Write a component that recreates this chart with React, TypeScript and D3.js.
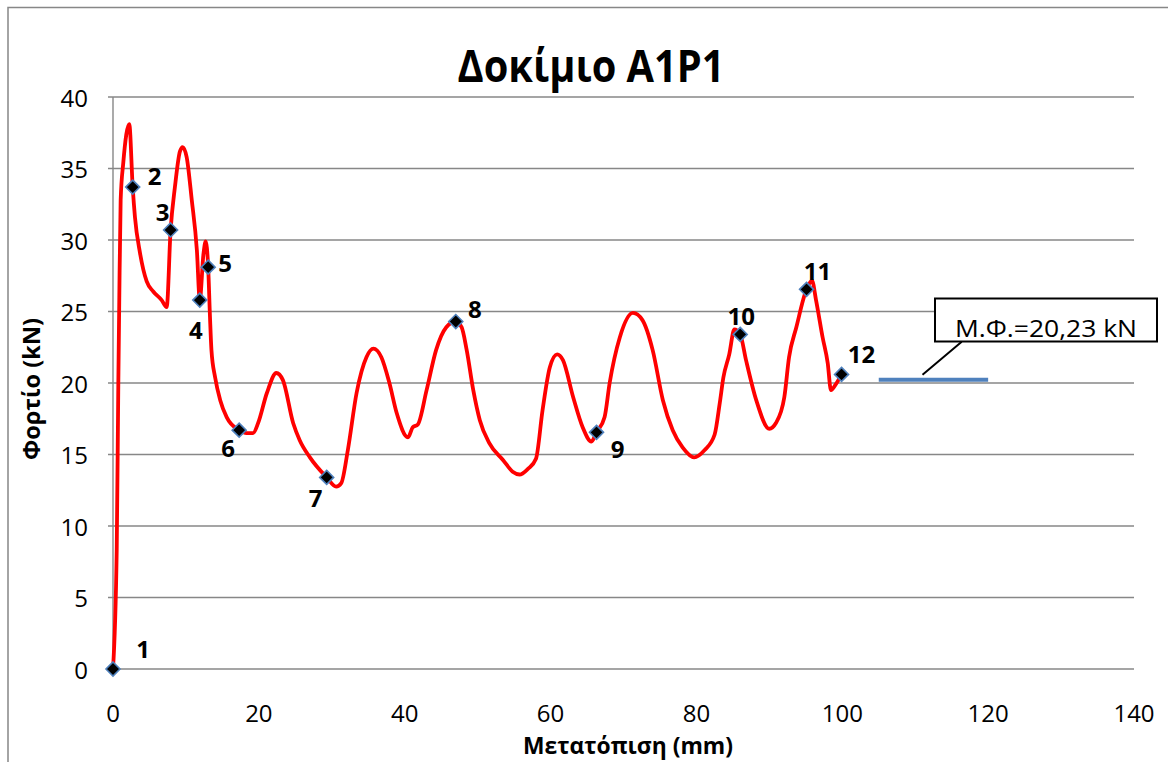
import React from "react";
import * as d3 from "d3";

// ---- data ----
const curveX = [0, 0.51, 0.73, 0.86, 1.05, 1.41, 2.23, 2.7, 3.01, 3.7, 4.62, 5.52, 6.67, 7.36, 7.9, 8.49, 9.18, 9.55, 10.1, 10.8, 11.5, 11.9, 12.4, 12.7, 13.05, 13.3, 13.5, 14.0, 14.7, 15.6, 17.3, 18.3, 19.2, 19.9, 21.1, 22.4, 23.3, 24.7, 25.6, 27.0, 29.3, 30.6, 31.3, 32.2, 33.4, 34.75, 35.7, 36.8, 37.9, 38.9, 40.45, 41.1, 41.8, 43.0, 44.3, 45.7, 47.0, 47.8, 48.5, 49.4, 50.3, 51.6, 53.5, 54.8, 55.75, 56.9, 58.0, 58.9, 59.9, 60.9, 61.7, 63.1, 64.4, 65.6, 66.3, 67.4, 68.1, 69.5, 71.3, 72.6, 74.0, 75.4, 76.75, 78.1, 79.7, 81.1, 82.5, 83.2, 83.7, 84.5, 85.2, 86.0, 86.8, 88.2, 90.0, 90.9, 92.05, 92.7, 93.7, 95.1, 95.85, 96.4, 97.3, 98.0, 98.45, 99.1, 99.9];
const curveY = [0, 8.32, 20.0, 25.8, 32.8, 35.4, 38.1, 33.7, 31.6, 29.1, 27.1, 26.4, 25.8, 25.3, 30.7, 33.7, 36.2, 36.5, 35.8, 32.8, 29.3, 25.8, 29.0, 29.9, 28.1, 24.6, 22.3, 20.4, 18.8, 17.6, 16.7, 16.5, 16.5, 17.2, 19.3, 20.7, 20.2, 17.2, 16.0, 14.8, 13.4, 12.75, 13.0, 15.3, 19.3, 21.8, 22.4, 21.8, 20.0, 17.9, 16.2, 16.9, 17.1, 19.5, 22.3, 23.9, 24.3, 23.9, 22.3, 19.5, 17.4, 15.8, 14.6, 13.8, 13.6, 14.0, 14.7, 18.1, 21.1, 22.0, 21.6, 19.0, 16.9, 15.9, 16.55, 17.6, 20.0, 23.2, 24.9, 24.4, 22.3, 18.8, 16.7, 15.5, 14.8, 15.3, 16.4, 18.6, 20.4, 22.0, 23.75, 23.4, 21.6, 18.8, 16.8, 17.2, 19.0, 21.8, 23.9, 26.55, 27.15, 25.8, 23.2, 21.4, 19.5, 19.9, 20.6];

const markerX = [0, 2.7, 7.9, 11.9, 13.05, 17.3, 29.3, 47.0, 66.3, 86.0, 95.1, 99.9];
const markerY = [0, 33.7, 30.7, 25.8, 28.1, 16.7, 13.4, 24.3, 16.55, 23.4, 26.55, 20.6];
const markerLabels = ["1", "2", "3", "4", "5", "6", "7", "8", "9", "10", "11", "12"];

const meanX = [105, 120];
const meanLoad = 20.23;

const xTicks = [0, 20, 40, 60, 80, 100, 120, 140];
const yTicks = [0, 5, 10, 15, 20, 25, 30, 35, 40];

const titleText = "Δοκίμιο A1P1";
const xTitle = "Μετατόπιση (mm)";
const yTitle = "Φορτίο (kN)";

// ---- layout (pixel offsets of labels relative to their markers) ----
const labelOffsets: [number, number][] = [
  [30, -11], [22, -2], [-8, -9], [-4, 39], [17, 5], [-11, 27], [-11, 30], [19, -4], [21, 26], [1, -9], [11, -9], [20, -11],
];

const FONT = "'Open Sans', 'Liberation Sans', sans-serif";
const GRID = "#878787";

export default function App() {
  const x = d3.scaleLinear().domain([0, 140]).range([113, 1134]);
  const y = d3.scaleLinear().domain([0, 40]).range([669, 97]);

  const pts = curveX.map((v, i) => [v, curveY[i]] as [number, number]);
  const line = d3
    .line<[number, number]>()
    .x((d) => x(d[0]))
    .y((d) => y(d[1]))
    .curve(d3.curveMonotoneX);

  const diamond = (cx: number, cy: number, r: number) =>
    `M${cx},${cy - r}L${cx + r},${cy}L${cx},${cy + r}L${cx - r},${cy}Z`;

  const meanText = `Μ.Φ.=${meanLoad.toFixed(2).replace(".", ",")} kN`;

  return (
    <svg
      width={1168}
      height={762}
      style={{ position: "absolute", left: 0, top: 0, background: "#fff" }}
      fontFamily={FONT}
    >
      <rect x={0} y={0} width={1168} height={762} fill="#fff" />
      {/* chart border */}
      <rect x={8} y={7.5} width={1200} height={800} fill="none" stroke={GRID} strokeWidth={1.5} />

      {/* title */}
      <text x={591} y={82} textAnchor="middle" fontSize={44} fontWeight="bold" textLength={267} lengthAdjust="spacingAndGlyphs">
        {titleText}
      </text>

      {/* gridlines + y ticks */}
      {yTicks.map((t) => (
        <g key={t}>
          <line x1={108} x2={x(140)} y1={y(t)} y2={y(t)} stroke={GRID} strokeWidth={1.4} />
          <text x={88} y={y(t)} textAnchor="end" dominantBaseline="central" fontSize={24} fill="#000">
            {t}
          </text>
        </g>
      ))}
      <line x1={x(0)} x2={x(0)} y1={y(40)} y2={y(0)} stroke={GRID} strokeWidth={1.4} />

      {/* x tick labels */}
      {xTicks.map((t) => (
        <text key={t} x={x(t)} y={712} textAnchor="middle" dominantBaseline="central" fontSize={24} fill="#000">
          {t}
        </text>
      ))}

      {/* axis titles */}
      <text x={628} y={754} textAnchor="middle" fontSize={24} fontWeight="bold" textLength={210} lengthAdjust="spacingAndGlyphs">
        {xTitle}
      </text>
      <text
        transform={`translate(40,389) rotate(-90)`}
        textAnchor="middle"
        fontSize={24}
        fontWeight="bold"
        textLength={142}
        lengthAdjust="spacingAndGlyphs"
      >
        {yTitle}
      </text>

      {/* curve */}
      <path d={line(pts) || ""} fill="none" stroke="#FF0000" strokeWidth={3.8} strokeLinejoin="round" />

      {/* markers */}
      {markerX.map((mx, i) => (
        <path key={i} d={diamond(x(mx), y(markerY[i]), 7)} fill="#000" stroke="#4F81BD" strokeWidth={1.6} />
      ))}
      {markerX.map((mx, i) => (
        <text
          key={"l" + i}
          x={x(mx) + labelOffsets[i][0]}
          y={y(markerY[i]) + labelOffsets[i][1]}
          textAnchor="middle"
          fontSize={24}
          fontWeight="bold"
          fill="#000"
        >
          {markerLabels[i]}
        </text>
      ))}

      {/* mean load line */}
      <line x1={x(meanX[0])} x2={x(meanX[1])} y1={y(meanLoad)} y2={y(meanLoad)} stroke="#4F81BD" strokeWidth={4} />

      {/* callout */}
      <line x1={961.7} y1={341.7} x2={x(111)} y2={y(meanLoad) - 5} stroke="#000" strokeWidth={2} />
      <rect x={935} y={298.5} width={222} height={43} fill="#fff" stroke="#000" strokeWidth={2} />
      <text x={1046} y={336.5} textAnchor="middle" fontSize={24} fill="#000" textLength={182} lengthAdjust="spacingAndGlyphs">
        {meanText}
      </text>
    </svg>
  );
}
